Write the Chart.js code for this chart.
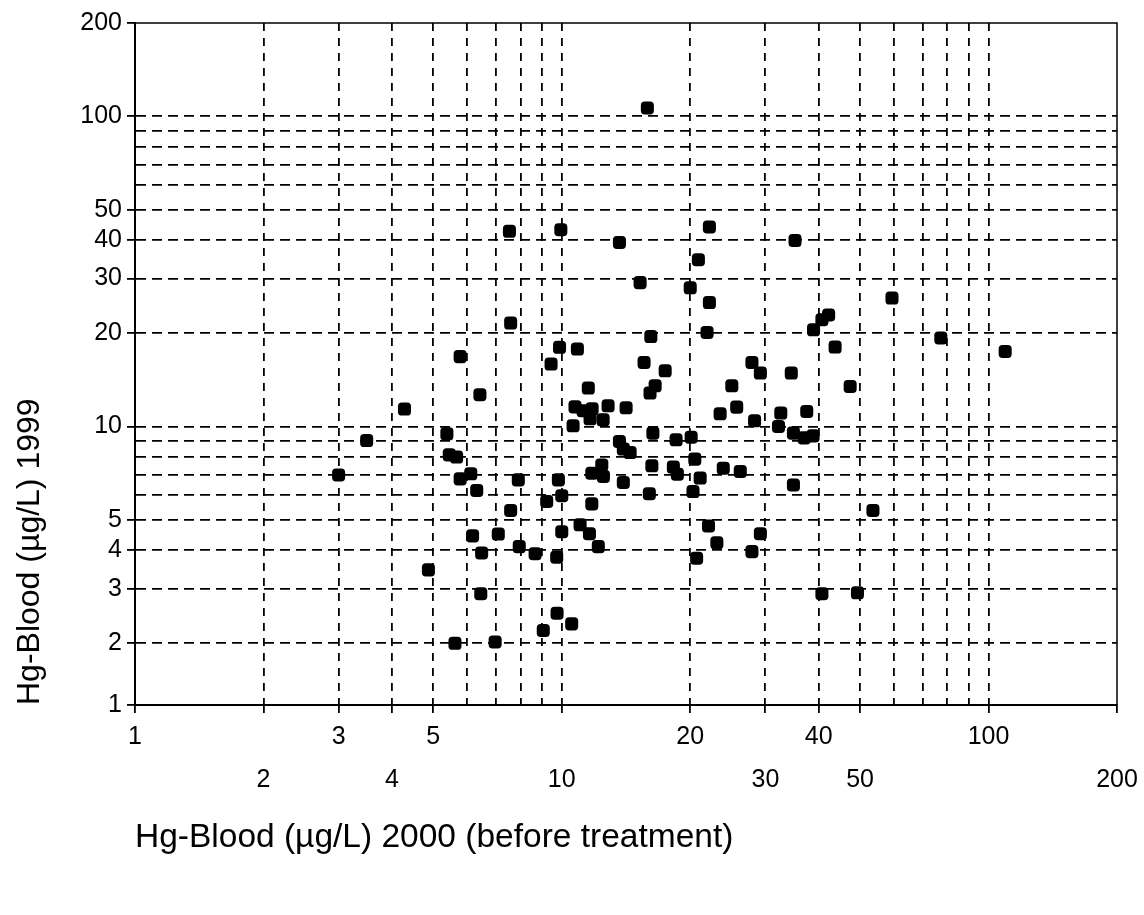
<!DOCTYPE html>
<html>
<head>
<meta charset="utf-8">
<script src="https://cdn.jsdelivr.net/npm/chart.js@4.4.1/dist/chart.umd.min.js"></script>
<style>
    html, body { margin: 0; padding: 0; background: #fff; }
    #wrap { width: 1144px; height: 915px; }
</style>
</head>
<body>
<div id="wrap"><canvas id="chartCanvas"></canvas></div>
<script>
// Hg-Blood 2000 (x) vs 1999 (y), µg/L
const hg2000 = [7.54, 9.95, 15.87, 22.18, 13.65, 35.2, 20.9, 15.26, 20.0, 7.59,
    9.88, 9.44, 5.78, 6.43, 4.28, 5.38, 3.49, 5.45, 5.67, 3.0,
    5.78, 6.12, 7.91, 9.82, 22.18, 21.9, 16.17, 10.88, 15.59, 17.47,
    27.9, 29.2, 34.5, 11.54, 16.55, 16.1, 25.03, 25.7, 23.5, 28.3,
    32.6, 32.2, 34.9, 10.74, 11.22, 11.78, 11.65, 12.5, 12.84, 14.15,
    10.63, 16.35, 18.53, 20.1, 13.65, 13.94, 14.46, 20.5, 23.9, 26.2,
    16.26, 18.26, 18.66, 12.41, 11.76, 12.52, 13.94, 21.1, 34.9, 59.4,
    42.2, 40.7, 38.9, 43.7, 47.4, 37.5, 36.98, 38.8, 77.3, 109.4,
    6.32, 9.22, 10.0, 7.59, 6.18, 7.1, 10.0, 6.49, 7.95, 8.66,
    9.73, 4.87, 6.46, 9.75, 9.05, 5.62, 6.98, 16.04, 20.3, 11.76,
    11.04, 11.61, 12.18, 22.07, 23.09, 29.2, 27.9, 20.7, 10.55, 53.6,
    40.7, 49.3];
const hg1999 = [42.6, 43.1, 106.4, 44.0, 39.2, 39.8, 34.5, 29.1, 28.0, 21.56,
    18.0, 15.9, 16.8, 12.66, 11.38, 9.47, 9.01, 8.1, 7.97, 6.98,
    6.78, 7.04, 6.73, 6.73, 25.1, 20.1, 19.5, 17.77, 16.09, 15.12,
    16.09, 14.87, 14.87, 13.3, 13.53, 12.82, 13.53, 11.55, 10.99, 10.43,
    11.05, 10.0, 9.52, 11.57, 11.24, 11.4, 10.59, 10.51, 11.66, 11.49,
    10.05, 9.52, 9.06, 9.24, 8.95, 8.46, 8.24, 7.85, 7.34, 7.16,
    7.47, 7.4, 7.02, 7.52, 7.07, 6.9, 6.6, 6.82, 6.48, 25.95,
    22.9, 22.1, 20.5, 18.04, 13.46, 11.18, 9.19, 9.33, 19.3, 17.46,
    6.22, 5.73, 5.98, 5.36, 4.44, 4.5, 4.58, 3.91, 4.1, 3.89,
    3.79, 3.45, 2.89, 2.5, 2.2, 2.0, 2.02, 6.07, 6.17, 5.63,
    4.82, 4.51, 4.1, 4.78, 4.22, 4.51, 3.95, 3.76, 2.31, 5.36,
    2.89, 2.91];

// x axis: labels staggered on two rows
const xMin = 1, xMax = 200;
const xTicks = [1, 2, 3, 4, 5, 6, 7, 8, 9, 10, 20, 30, 40, 50, 60, 70, 80, 90, 100, 200];
const xRowTop = [1, 3, 5, 20, 40, 100];
const xRowBottom = [2, 4, 10, 30, 50, 200];

// y axis: bottom edge is labelled "1" in the original
const yMin = 1.265, yMax = 200;
const yTicks = [yMin, 2, 3, 4, 5, 6, 7, 8, 9, 10, 20, 30, 40, 50, 60, 70, 80, 90, 100, 200];
const yLabelled = [yMin, 2, 3, 4, 5, 10, 20, 30, 40, 50, 100, 200];

const xTitle = 'Hg-Blood (µg/L) 2000 (before treatment)';
const yTitle = 'Hg-Blood (µg/L) 1999';

const FONT = '"Liberation Sans", Arial, sans-serif';
const CLEAR = 'rgba(0,0,0,0)';

// box line on top and right
const framePlugin = {
    id: 'frame',
    beforeDatasetsDraw(chart) {
        const { ctx, chartArea: a } = chart;
        ctx.save();
        ctx.strokeStyle = '#000';
        ctx.lineWidth = 1.5;
        ctx.beginPath();
        ctx.moveTo(a.left, a.top);
        ctx.lineTo(a.right, a.top);
        ctx.lineTo(a.right, a.bottom);
        ctx.stroke();
        ctx.restore();
    }
};

let chart = new Chart(document.getElementById('chartCanvas'), {
    type: 'scatter',
    data: {
        datasets: [{
            data: hg2000.map((x, i) => ({ x: x, y: hg1999[i] })),
            pointStyle: 'rectRounded',
            pointRadius: 7.6,
            pointHoverRadius: 7.6,
            backgroundColor: '#000',
            borderColor: '#000',
            borderWidth: 0
        }]
    },
    options: {
        responsive: true,
        maintainAspectRatio: false,
        animation: false,
        devicePixelRatio: 1,
        layout: { padding: { left: 0, top: 23, right: 27, bottom: 0 } },
        plugins: { legend: { display: false }, tooltip: { enabled: false } },
        scales: {
            x: {
                type: 'logarithmic',
                min: xMin,
                max: xMax,
                afterBuildTicks: (scale) => { scale.ticks = xTicks.map(v => ({ value: v })); },
                afterFit: (scale) => { scale.height = 210; },
                ticks: {
                    autoSkip: false,
                    maxRotation: 0,
                    minRotation: 0,
                    padding: 3,
                    color: '#000',
                    font: { family: FONT, size: 25, lineHeight: 1.72 },
                    callback: (v) => {
                        if (xRowTop.includes(v)) return [String(v), ''];
                        if (xRowBottom.includes(v)) return ['', String(v)];
                        return '';
                    }
                },
                grid: {
                    color: (c) => (c.tick && (c.tick.value === xMin || c.tick.value === xMax)) ? CLEAR : '#000',
                    lineWidth: 1.8,
                    tickLength: 8,
                    tickWidth: 1.8,
                    tickColor: (c) => (c.tick && (xRowTop.includes(c.tick.value) || xRowBottom.includes(c.tick.value))) ? '#000' : CLEAR
                },
                border: { display: true, color: '#000', width: 2, dash: [8, 7] },
                title: {
                    display: true,
                    text: xTitle,
                    align: 'start',
                    color: '#000',
                    font: { family: FONT, size: 33.5, lineHeight: 1.2 },
                    padding: { top: 0, bottom: 57 }
                }
            },
            y: {
                type: 'logarithmic',
                min: yMin,
                max: yMax,
                afterBuildTicks: (scale) => { scale.ticks = yTicks.map(v => ({ value: v })); },
                afterFit: (scale) => { scale.width = 135; },
                ticks: {
                    autoSkip: false,
                    padding: 5,
                    color: '#000',
                    font: { family: FONT, size: 25 },
                    callback: (v) => {
                        if (v === yMin) return '1';
                        return yLabelled.includes(v) ? String(v) : '';
                    }
                },
                grid: {
                    color: (c) => (c.tick && (c.tick.value === yMin || c.tick.value === yMax)) ? CLEAR : '#000',
                    lineWidth: 1.8,
                    tickLength: 8,
                    tickWidth: 1.8,
                    tickColor: (c) => (c.tick && yLabelled.includes(c.tick.value)) ? '#000' : CLEAR
                },
                border: { display: true, color: '#000', width: 2, dash: [10, 6] },
                title: {
                    display: true,
                    text: yTitle,
                    align: 'start',
                    color: '#000',
                    font: { family: FONT, size: 32, lineHeight: 1.2 },
                    padding: { top: 11, bottom: 0 }
                }
            }
        }
    },
    plugins: [framePlugin]
});
</script>
</body>
</html>
